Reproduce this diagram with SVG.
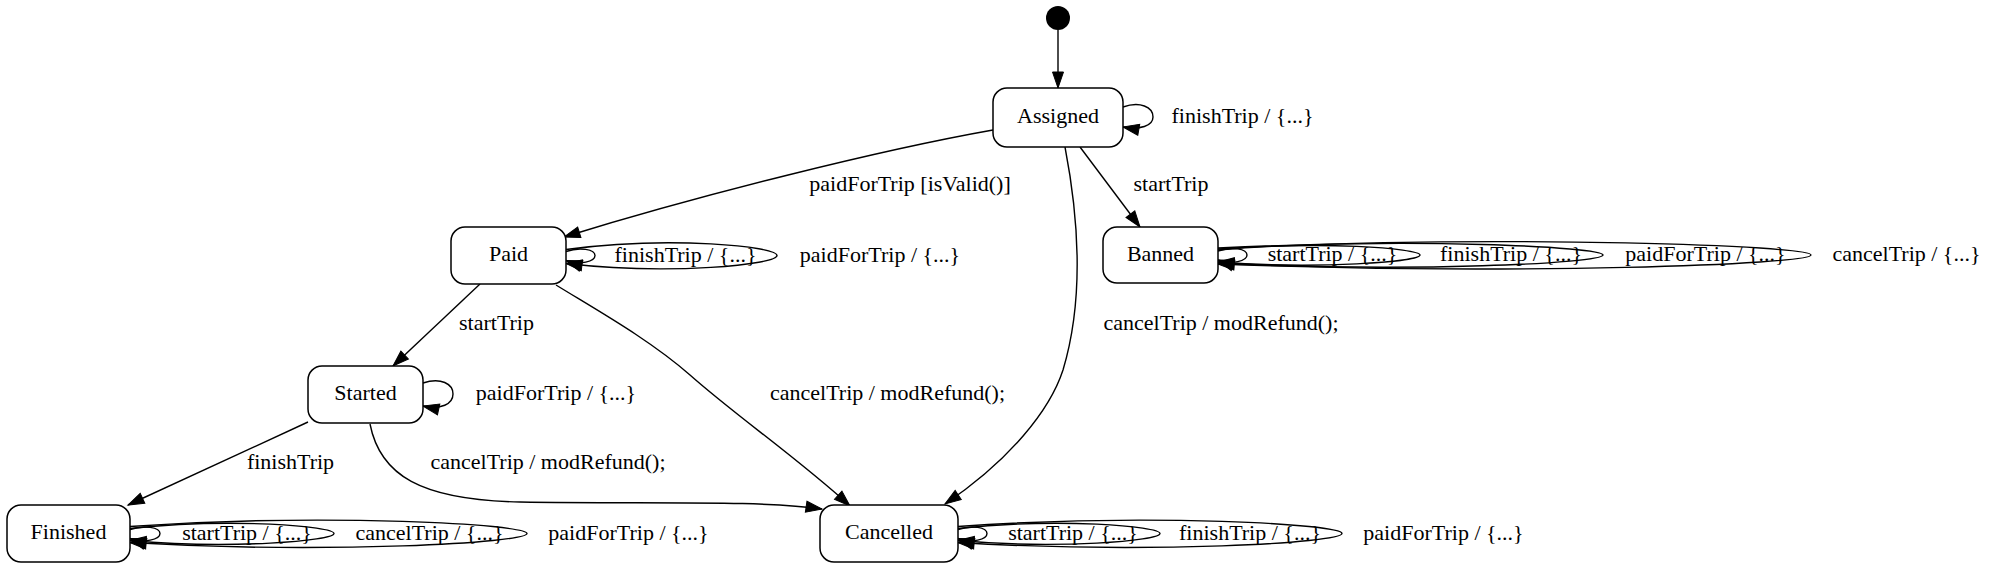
<svg xmlns="http://www.w3.org/2000/svg" width="1992" height="576" viewBox="0 0 1992 576">
<style>
text{font-family:"Liberation Serif","Times New Roman",serif;font-size:22px;fill:#000;text-anchor:middle}
.node rect{fill:#fff;stroke:#000;stroke-width:1.5}
.edges path{fill:none;stroke:#000;stroke-width:1.4;marker-end:url(#arr)}
</style>
<defs>
<marker id="arr" markerUnits="userSpaceOnUse" markerWidth="20" markerHeight="16" viewBox="-1 -8 20 16" refX="16" refY="0" orient="auto" overflow="visible">
<path d="M0,-5.5 L16,0 L0,5.5 z" fill="#000" stroke="#000" stroke-width="1"/>
</marker>
</defs>
<rect width="1992" height="576" fill="#fff"/>
<g id="initial"><circle cx="1058" cy="18" r="12" fill="#000"/></g>
<g class="edges" id="connectors">
<path d="M1058,30 L1058,88"/>
<path d="M1123,107 C1140,101 1153,107 1153,117 C1153,126 1140,130 1123,127"/>
<path d="M993,130 C880,150 700,195 564,237"/>
<path d="M1080,147 L1140,227"/>
<path d="M1065,147 C1079,220 1084,300 1063,370 C1050,410 1010,460 945,504"/>
<path d="M566,251.5 C580,246.5 595,249.5 595,255.5 C595,261.5 580,265.5 566,260.5"/>
<path d="M566,249.5 C671,235.5 777,246.5 777,255.5 C777,264.5 671,275.5 566,263.5"/>
<path d="M1218,251 C1232,246 1247,249 1247,255 C1247,261 1232,265 1218,260"/>
<path d="M1218,250 C1319,240.4 1420,248.4 1420,255 C1420,261.6 1319,269.6 1218,262"/>
<path d="M1218,249 C1410,237 1603,246.9 1603,255 C1603,263.1 1410,273 1218,263"/>
<path d="M1218,248 C1514,234.4 1811,245.7 1811,255 C1811,264.3 1514,275.6 1218,264"/>
<path d="M480,284 L393,366"/>
<path d="M556,285 C600,312 650,340 690,375 C735,415 800,460 850,506"/>
<path d="M423,383 C441,377 453,384 453,394 C453,404 441,410 423,406"/>
<path d="M308,422 L128,505"/>
<path d="M370,424 C380,475 420,500 520,502 C650,504 760,500 822,509"/>
<path d="M130,529.5 C144,524.5 160,527.5 160,533.5 C160,539.5 144,543.5 130,538.5"/>
<path d="M130,528.5 C232,517.5 334,526.3 334,533.5 C334,540.7 232,549.5 130,540.5"/>
<path d="M130,526.5 C328,512.9 527,524.2 527,533.5 C527,542.8 328,554.1 130,542.5"/>
<path d="M958,529.5 C972,524.5 987,527.5 987,533.5 C987,539.5 972,543.5 958,538.5"/>
<path d="M958,528.5 C1059,517.5 1160,526.3 1160,533.5 C1160,540.7 1059,549.5 958,540.5"/>
<path d="M958,526.5 C1150,512.9 1342,524.2 1342,533.5 C1342,542.8 1150,554.1 958,542.5"/>
</g>
<g id="edge-labels">
<text x="1242.5" y="123">finishTrip / {...}</text>
<text x="910" y="191">paidForTrip [isValid()]</text>
<text x="1171" y="191">startTrip</text>
<text x="685.5" y="261.5">finishTrip / {...}</text>
<text x="880" y="261.5">paidForTrip / {...}</text>
<text x="1332.5" y="261">startTrip / {...}</text>
<text x="1511" y="261">finishTrip / {...}</text>
<text x="1705.5" y="261">paidForTrip / {...}</text>
<text x="1906.5" y="261">cancelTrip / {...}</text>
<text x="1221" y="329.5">cancelTrip / modRefund();</text>
<text x="496.5" y="329.5">startTrip</text>
<text x="556" y="400">paidForTrip / {...}</text>
<text x="887.5" y="399.5">cancelTrip / modRefund();</text>
<text x="290.5" y="468.5">finishTrip</text>
<text x="548" y="468.5">cancelTrip / modRefund();</text>
<text x="247" y="539.5">startTrip / {...}</text>
<text x="429.5" y="539.5">cancelTrip / {...}</text>
<text x="628.5" y="539.5">paidForTrip / {...}</text>
<text x="1073" y="539.5">startTrip / {...}</text>
<text x="1250" y="539.5">finishTrip / {...}</text>
<text x="1443.5" y="539.5">paidForTrip / {...}</text>
</g>
<g class="node" id="Assigned"><rect x="993" y="88" width="130" height="59" rx="14"/><text x="1058" y="122.5">Assigned</text></g>
<g class="node" id="Paid"><rect x="451" y="227" width="115" height="57" rx="14"/><text x="508.5" y="261">Paid</text></g>
<g class="node" id="Banned"><rect x="1103" y="227" width="115" height="56" rx="14"/><text x="1160.5" y="260.5">Banned</text></g>
<g class="node" id="Started"><rect x="308" y="366" width="115" height="57" rx="14"/><text x="365.5" y="400">Started</text></g>
<g class="node" id="Finished"><rect x="7" y="505" width="123" height="57" rx="14"/><text x="68.5" y="538.5">Finished</text></g>
<g class="node" id="Cancelled"><rect x="820" y="505" width="138" height="57" rx="14"/><text x="889" y="538.5">Cancelled</text></g>
</svg>
